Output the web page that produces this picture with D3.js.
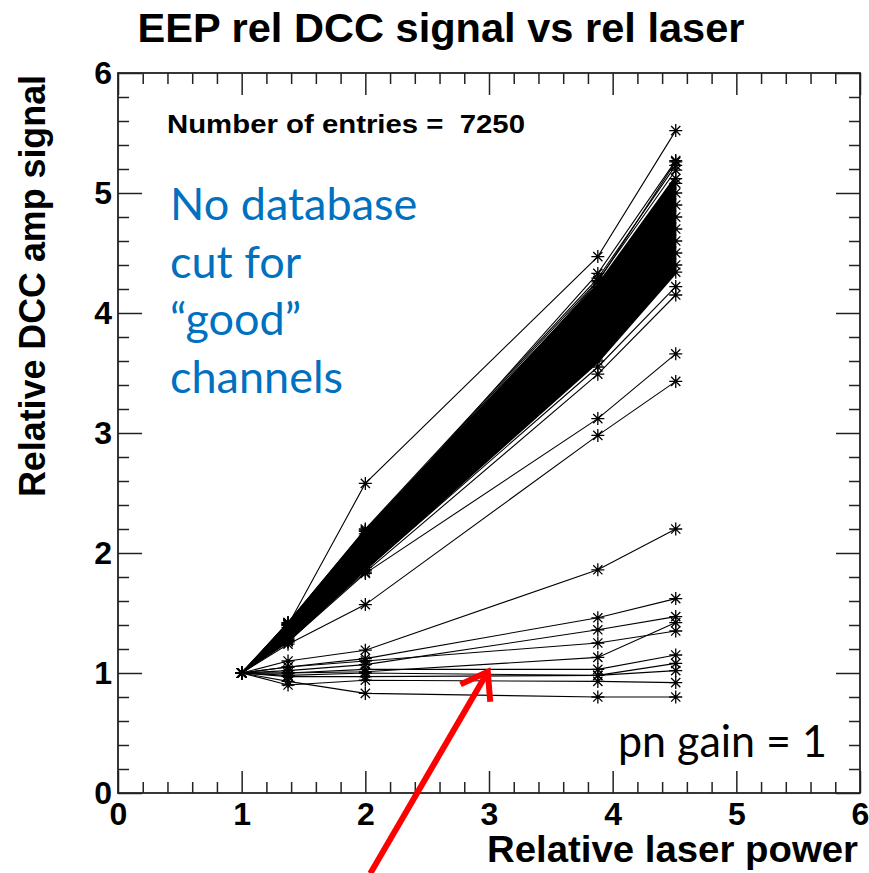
<!DOCTYPE html>
<html>
<head>
<meta charset="utf-8">
<script src="https://cdn.jsdelivr.net/npm/d3@7"></script>
<style>
  body { margin: 0; background: #fff; }
  svg { display: block; }
</style>
</head>
<body>
<svg id="chart" width="869" height="873"></svg>
<script>
// Laser power steps (relative to the first step)
const laserPower = [1, 1.375, 2, 3.88, 4.51];

// Envelope of the dense bulk of channels at each laser step
const bandUpper = [1, 1.43, 2.20, 4.25, 5.15];
const bandLower = [1, 1.25, 1.85, 3.58, 4.32];

// Individual channels inside / on the edges of the bulk
const bandChannels = [
  [1, 1.42, 2.18, 4.22, 5.12],
  [1, 1.40, 2.14, 4.18, 5.08],
  [1, 1.38, 2.10, 4.10, 5.00],
  [1, 1.36, 2.06, 4.02, 4.90],
  [1, 1.34, 2.02, 3.95, 4.80],
  [1, 1.33, 1.98, 3.88, 4.70],
  [1, 1.31, 1.95, 3.80, 4.60],
  [1, 1.29, 1.92, 3.72, 4.50],
  [1, 1.27, 1.88, 3.65, 4.40],
  [1, 1.26, 1.86, 3.60, 4.34],
  [1, 1.41, 2.19, 4.27, 5.19],
  [1, 1.42, 2.20, 4.29, 5.23],
  [1, 1.40, 2.12, 4.26, 5.26]
];

// Channels clearly away from the bulk
const outlierChannels = [
  [1, 1.40, 2.58, 4.47, 5.52],
  [1, 1.41, 2.16, 4.33, 5.27],
  [1, 1.28, 1.86, 3.55, 4.22],
  [1, 1.27, 1.84, 3.49, 4.15],
  [1, 1.26, 1.83, 3.12, 3.66],
  [1, 1.24, 1.57, 2.98, 3.43],
  [1, 1.10, 1.19, 1.86, 2.20]
];

// Channels with (almost) no response to the laser
const lowChannels = [
  [1, 1.05, 1.12, 1.46, 1.62],
  [1, 1.02, 1.07, 1.36, 1.47],
  [1, 1.05, 1.10, 1.25, 1.35],
  [1, 1.00, 1.01, 1.13, 1.42],
  [1, 1.00, 1.03, 1.03, 1.15],
  [1, 0.98, 1.00, 0.98, 1.08],
  [1, 0.97, 0.97, 0.98, 1.02],
  [1, 0.90, 0.94, 0.93, 0.92],
  [1, 0.93, 0.83, 0.80, 0.80]
];

const majorTicks = [0, 1, 2, 3, 4, 5, 6];
const entryCount = 7250;
const noteLines = ["No database", "cut for", "\u201Cgood\u201D", "channels"];
const gainNote = "pn gain = 1";
// Pointer arrow, in data coordinates
const arrowTail = [2.04, -0.67];
const arrowTip = [2.99, 1.01];

const svg = d3.select("#chart");
const plot = { left: 118, right: 860, top: 73, bottom: 793 };

const x = d3.scaleLinear().domain([0, 6]).range([plot.left, plot.right]);
const y = d3.scaleLinear().domain([0, 6]).range([plot.bottom, plot.top]);

const minorTicks = d3.range(0, 6.0001, 0.2).map(v => +v.toFixed(2)).filter(v => Math.abs(v - Math.round(v)) > 1e-6);

const rootFont = "'Liberation Sans', Arial, Helvetica, sans-serif";

// Title
svg.append("text")
  .attr("x", 441).attr("y", 42)
  .attr("text-anchor", "middle")
  .attr("font-family", rootFont).attr("font-weight", "bold")
  .attr("font-size", 40)
  .attr("textLength", 607).attr("lengthAdjust", "spacingAndGlyphs")
  .text("EEP rel DCC signal vs rel laser");

// Bulk of channels
const band = d3.area()
  .x((d, i) => x(laserPower[i]))
  .y0((d, i) => y(bandLower[i]))
  .y1(d => y(d));
svg.append("path").datum(bandUpper)
  .attr("d", band).attr("fill", "#000");

const line = d3.line().x((d, i) => x(laserPower[i])).y(d => y(d));
const allChannels = bandChannels.concat(outlierChannels, lowChannels);

svg.append("g").selectAll("path").data(allChannels).join("path")
  .attr("d", line)
  .attr("fill", "none").attr("stroke", "#000").attr("stroke-width", 1.1);

// Asterisk markers
const star = "M-6.5,0H6.5M0,-6.5V6.5M-4.6,-4.6L4.6,4.6M-4.6,4.6L4.6,-4.6";
const points = [];
allChannels.forEach(ch => ch.forEach((v, i) => points.push([laserPower[i], v])));
svg.append("g").selectAll("path").data(points).join("path")
  .attr("transform", d => `translate(${x(d[0])},${y(d[1])})`)
  .attr("d", star)
  .attr("fill", "none").attr("stroke", "#000").attr("stroke-width", 1.3);

// Axes (ticks point inwards, on all four sides)
const axisColor = "#222";
function styleAxis(g) {
  g.select(".domain").remove();
  g.selectAll(".tick line").attr("stroke", axisColor).attr("stroke-width", 1.5);
  g.selectAll("text")
    .attr("font-family", rootFont).attr("font-weight", "bold")
    .attr("font-size", 32).attr("fill", "#000");
}

svg.append("g").attr("transform", `translate(0,${plot.bottom})`)
  .call(d3.axisBottom(x).tickValues(majorTicks).tickFormat(d3.format("d"))
    .tickSizeInner(-22).tickSizeOuter(0).tickPadding(9))
  .call(styleAxis);
svg.append("g").attr("transform", `translate(0,${plot.bottom})`)
  .call(d3.axisBottom(x).tickValues(minorTicks).tickFormat("").tickSizeInner(-11).tickSizeOuter(0))
  .call(styleAxis);

svg.append("g").attr("transform", `translate(${plot.left},0)`)
  .call(d3.axisLeft(y).tickValues(majorTicks).tickFormat(d3.format("d"))
    .tickSizeInner(-24).tickSizeOuter(0).tickPadding(6))
  .call(styleAxis);
svg.append("g").attr("transform", `translate(${plot.left},0)`)
  .call(d3.axisLeft(y).tickValues(minorTicks).tickFormat("").tickSizeInner(-11).tickSizeOuter(0))
  .call(styleAxis);

svg.append("g").attr("transform", `translate(0,${plot.top})`)
  .call(d3.axisTop(x).tickValues(majorTicks).tickFormat("").tickSizeInner(-22).tickSizeOuter(0))
  .call(styleAxis);
svg.append("g").attr("transform", `translate(0,${plot.top})`)
  .call(d3.axisTop(x).tickValues(minorTicks).tickFormat("").tickSizeInner(-11).tickSizeOuter(0))
  .call(styleAxis);

svg.append("g").attr("transform", `translate(${plot.right},0)`)
  .call(d3.axisRight(y).tickValues(majorTicks).tickFormat("").tickSizeInner(-24).tickSizeOuter(0))
  .call(styleAxis);
svg.append("g").attr("transform", `translate(${plot.right},0)`)
  .call(d3.axisRight(y).tickValues(minorTicks).tickFormat("").tickSizeInner(-11).tickSizeOuter(0))
  .call(styleAxis);

// Frame
svg.append("rect")
  .attr("x", plot.left).attr("y", plot.top)
  .attr("width", plot.right - plot.left).attr("height", plot.bottom - plot.top)
  .attr("fill", "none").attr("stroke", axisColor).attr("stroke-width", 1.8);

// Axis titles
svg.append("text")
  .attr("x", 858).attr("y", 862)
  .attr("text-anchor", "end")
  .attr("font-family", rootFont).attr("font-weight", "bold").attr("font-size", 36)
  .attr("textLength", 371).attr("lengthAdjust", "spacingAndGlyphs")
  .text("Relative laser power");

svg.append("text")
  .attr("transform", "translate(45,75) rotate(-90)")
  .attr("text-anchor", "end")
  .attr("font-family", rootFont).attr("font-weight", "bold").attr("font-size", 37)
  .attr("textLength", 422).attr("lengthAdjust", "spacingAndGlyphs")
  .text("Relative DCC amp signal");

// Statistics line
svg.append("text")
  .attr("x", 167).attr("y", 133)
  .attr("font-family", rootFont).attr("font-weight", "bold").attr("font-size", 26)
  .attr("textLength", 358).attr("lengthAdjust", "spacingAndGlyphs")
  .attr("xml:space", "preserve")
  .text(`Number of entries =  ${entryCount}`);

// Notes
const noteFont = "Lato, 'Open Sans', sans-serif";
svg.append("g").selectAll("text").data(noteLines).join("text")
  .attr("x", 170).attr("y", (d, i) => 220 + i * 57.5)
  .attr("font-family", noteFont).attr("font-size", 45)
  .attr("fill", "#0070C0")
  .text(d => d);

svg.append("text")
  .attr("x", 618).attr("y", 757)
  .attr("font-family", noteFont).attr("font-size", 44)
  .attr("fill", "#000")
  .attr("textLength", 209).attr("lengthAdjust", "spacingAndGlyphs")
  .text(gainNote);

// Red pointer arrow
const tip = [x(arrowTip[0]), y(arrowTip[1])];
const tail = [x(arrowTail[0]), y(arrowTail[1])];
const ang = Math.atan2(tail[1] - tip[1], tail[0] - tip[0]);
const wing = 30, spread = 35 * Math.PI / 180;
const w1 = [tip[0] + wing * Math.cos(ang + spread), tip[1] + wing * Math.sin(ang + spread)];
const w2 = [tip[0] + wing * Math.cos(ang - spread), tip[1] + wing * Math.sin(ang - spread)];
const arrow = svg.append("g")
  .attr("fill", "none").attr("stroke", "#FF0000").attr("stroke-width", 6)
  .attr("stroke-linecap", "butt").attr("stroke-linejoin", "miter");
arrow.append("path").attr("d", d3.line()([tail, tip]));
arrow.append("path").attr("d", d3.line()([w1, tip, w2]));
</script>
</body>
</html>
